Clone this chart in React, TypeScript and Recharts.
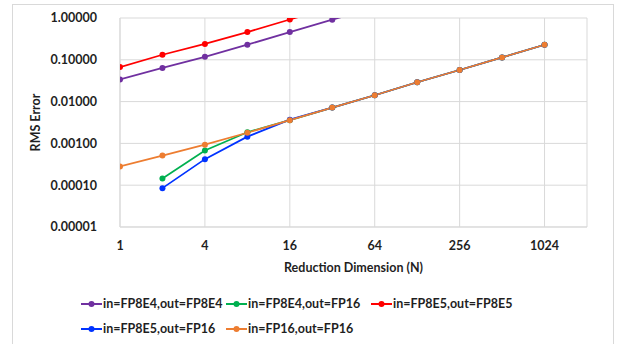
import React from "react";
import {
  LineChart,
  Line,
  XAxis,
  YAxis,
  CartesianGrid,
  Legend,
} from "recharts";

const dims = [1, 2, 4, 8, 16, 32, 64, 128, 256, 512, 1024];

// values (null = no point)
const fp8e4ToFp8e4 = [0.034, 0.064, 0.118, 0.23, 0.46, 0.91, 1.8];
const fp8e4ToFp16 = [null, 0.000145, 0.00068, 0.00185, 0.0036, 0.0072, 0.0142, 0.029, 0.057, 0.114, 0.229];
const fp8e5ToFp8e5 = [0.067, 0.132, 0.24, 0.46, 0.92, 1.8];
const fp8e5ToFp16 = [null, 0.000085, 0.00042, 0.00145, 0.0037, 0.0072, 0.0142, 0.029, 0.057, 0.114, 0.229];
const fp16ToFp16 = [0.00028, 0.00051, 0.00093, 0.0018, 0.0036, 0.0072, 0.0142, 0.029, 0.057, 0.114, 0.229];

const xTicks = [1, 4, 16, 64, 256, 1024];
const yTicks = [0.00001, 0.0001, 0.001, 0.01, 0.1, 1];

const series = [
  { key: "a", name: "in=FP8E4,out=FP8E4", color: "#7030a0", values: fp8e4ToFp8e4 },
  { key: "b", name: "in=FP8E4,out=FP16", color: "#00b050", values: fp8e4ToFp16 },
  { key: "c", name: "in=FP8E5,out=FP8E5", color: "#ff0000", values: fp8e5ToFp8e5 },
  { key: "d", name: "in=FP8E5,out=FP16", color: "#0033ff", values: fp8e5ToFp16 },
  { key: "e", name: "in=FP16,out=FP16", color: "#ed7d31", values: fp16ToFp16 },
];

const data = dims.map((n, i) => {
  const row: Record<string, number | null> = { n };
  series.forEach((s) => {
    const v = s.values[i];
    row[s.key] = v === undefined ? null : v;
  });
  return row;
});

const FONT = "Lato, 'Open Sans', sans-serif";
const TEXT = "#1f1f1f";
const FS = 12.5;

function LegendBox() {
  return (
    <div
      style={{
        position: "relative",
        height: 50,
        width: 622,
        fontFamily: FONT,
        fontWeight: 700,
        fontSize: FS,
        color: TEXT,
      }}
    >
      {series.map((s, i) => {
        const row = i < 3 ? 0 : 1;
        const col = i < 3 ? i : i - 3;
        return (
          <div
            key={s.key}
            style={{
              position: "absolute",
              left: 81 + col * 145,
              top: row * 25,
              height: 25,
              display: "flex",
              alignItems: "center",
              whiteSpace: "nowrap",
            }}
          >
            <svg width={21} height={10} style={{ marginRight: 1 }}>
              <line x1={0} y1={5} x2={21} y2={5} stroke={s.color} strokeWidth={2} />
              <circle cx={10.5} cy={5} r={3} fill={s.color} />
            </svg>
            <span>{s.name}</span>
          </div>
        );
      })}
    </div>
  );
}

function YLabel(props: any) {
  const vb = props.viewBox || {};
  const cx = 35;
  const cy = vb.y + vb.height / 2;
  return (
    <text
      x={cx}
      y={cy}
      transform={`rotate(-90, ${cx}, ${cy})`}
      textAnchor="middle"
      dominantBaseline="central"
      fontFamily={FONT}
      fontWeight={700}
      fontSize={FS}
      fill={TEXT}
    >
      RMS Error
    </text>
  );
}

export default function App() {
  return (
    <div style={{ position: "absolute", left: 0, top: 0, width: 622, height: 344, background: "#fff" }}>
      <div
        style={{
          position: "absolute",
          left: 12,
          top: 4,
          width: 600,
          height: 345,
          border: "1px solid #d9d9d9",
        }}
      />
      <LineChart
        width={622}
        height={344}
        data={data}
        margin={{ top: 18, right: 35, left: 20, bottom: 3 }}
      >
        <CartesianGrid stroke="#d9d9d9" strokeWidth={1} />
        <XAxis
          dataKey="n"
          type="number"
          scale="log"
          domain={[1, 2048]}
          ticks={xTicks}
          allowDataOverflow
          height={64}
          tickSize={0}
          tickMargin={14}
          axisLine={{ stroke: "#d9d9d9" }}
          tickLine={false}
          tick={{ fontFamily: FONT, fontWeight: 700, fontSize: FS, fill: TEXT }}
          label={{
            value: "Reduction Dimension (N)",
            position: "insideBottom",
            offset: 19,
            style: { fontFamily: FONT, fontWeight: 700, fontSize: FS, fill: TEXT },
          }}
        />
        <YAxis
          type="number"
          scale="log"
          domain={[0.00001, 1]}
          ticks={yTicks}
          allowDataOverflow
          width={100}
          tickSize={0}
          tickMargin={23}
          axisLine={{ stroke: "#d9d9d9" }}
          tickLine={false}
          tickFormatter={(v: number) => v.toFixed(5)}
          tick={{ fontFamily: FONT, fontWeight: 700, fontSize: FS, fill: TEXT }}
          label={<YLabel />}
        />
        <Legend
          verticalAlign="bottom"
          height={50}
          wrapperStyle={{ left: 0, width: 622 }}
          content={() => <LegendBox />}
        />
        {series.map((s) => (
          <Line
            key={s.key}
            dataKey={s.key}
            name={s.name}
            stroke={s.color}
            strokeWidth={1.75}
            dot={{ r: 3, fill: s.color, stroke: s.color, strokeWidth: 0 }}
            activeDot={false}
            isAnimationActive={false}
            connectNulls={false}
          />
        ))}
      </LineChart>
    </div>
  );
}
